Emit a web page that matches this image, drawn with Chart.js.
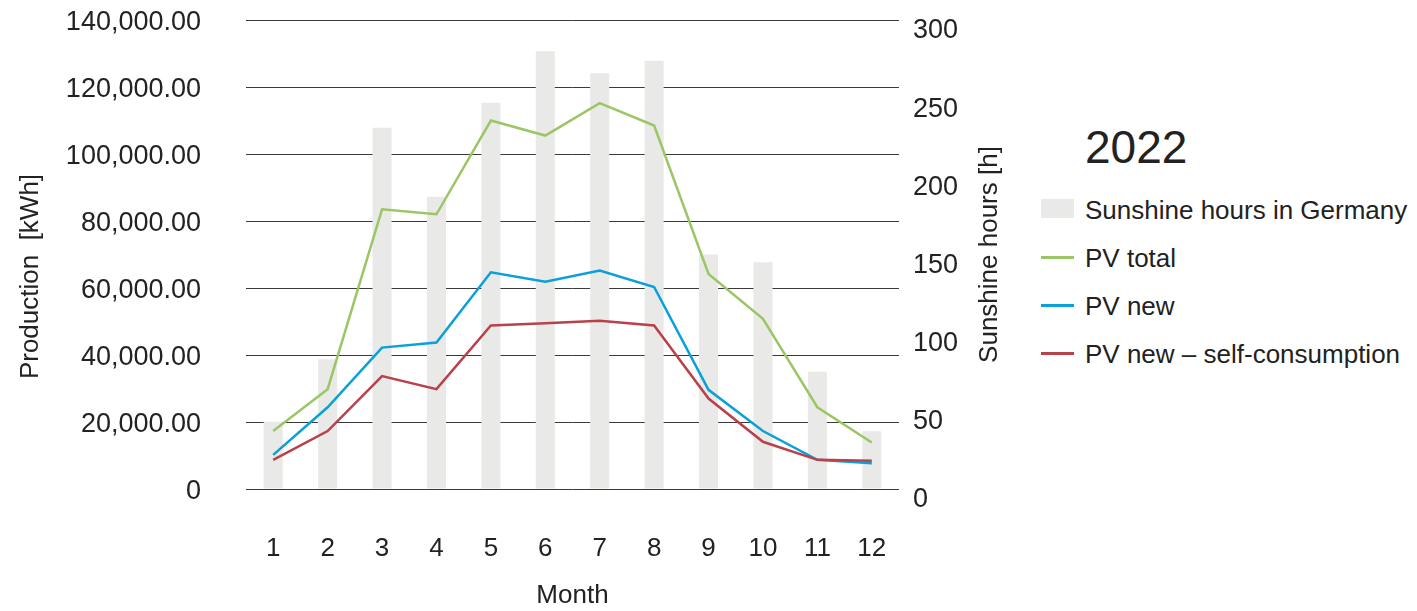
<!DOCTYPE html>
<html lang="en">
<head>
  <meta charset="UTF-8">
  <title>PV production and sunshine hours 2022</title>
  <script src="https://cdn.jsdelivr.net/npm/chart.js"></script>
  <style>
    html, body {
      margin: 0;
      padding: 0;
      background: #fff;
    }
    body {
      position: relative;
      width: 1417px;
      height: 611px;
      overflow: hidden;
      font-family: "Liberation Sans", Arial, sans-serif;
      color: #222;
    }
    #chart {
      position: absolute;
      left: 0;
      top: 0;
    }
    /* legend sits to the right of the plot */
    #legend {
      position: absolute;
      left: 1041px;
      top: 124px;
    }
    #legend .year {
      height: 73px;
      padding-left: 44px;
      font-size: 46px;
      line-height: 46px;
    }
    #legend .item {
      position: relative;
      height: 48px;
      padding-left: 44px;
      font-size: 26px;
      line-height: 26px;
      white-space: nowrap;
    }
    #legend .box {
      position: absolute;
      left: 0;
      top: 2px;
      width: 33px;
      height: 19px;
    }
    #legend .line {
      position: absolute;
      left: 0;
      top: 10.5px;
      width: 33px;
      height: 3px;
    }
  </style>
</head>
<body>
  <canvas id="chart" width="1030" height="611"></canvas>
  <div id="legend"></div>

  <script>
    // Monthly values for 2022
    const months = ['1', '2', '3', '4', '5', '6', '7', '8', '9', '10', '11', '12'];
    const sunshineHours = [43, 83, 231, 187, 247, 280, 266, 274, 150, 145, 75, 37];
    const pvTotal = [17300, 29800, 83500, 82000, 110000, 105500, 115200, 108500, 64200, 50800, 24400, 13900];
    const pvNew = [10200, 24400, 42200, 43700, 64700, 61900, 65200, 60300, 29600, 17300, 8700, 7700];
    const pvNewSelf = [8700, 17300, 33700, 29800, 48800, 49500, 50200, 48800, 27000, 14100, 8700, 8400];

    const COLOR_BAR = '#e9e9e8';
    const COLOR_TOTAL = '#9cc666';
    const COLOR_NEW = '#0aa0d8';
    const COLOR_SELF = '#b9414a';
    const TEXT = '#222';
    const FONT = '"Liberation Sans", Arial, sans-serif';

    const legendEntries = [
      { label: 'Sunshine hours in Germany', color: COLOR_BAR, kind: 'box' },
      { label: 'PV total', color: COLOR_TOTAL, kind: 'line' },
      { label: 'PV new', color: COLOR_NEW, kind: 'line' },
      { label: 'PV new – self-consumption', color: COLOR_SELF, kind: 'line' }
    ];

    // 0 stays plain, everything else gets thousands separators and two decimals
    function formatKwh(value) {
      if (value === 0) return '0';
      return value.toLocaleString('en-US', { minimumFractionDigits: 2, maximumFractionDigits: 2 });
    }

    // fixed axis width, and no extra room reserved above/below for the tick labels
    function fixWidth(width) {
      return function (scale) {
        scale.width = width;
        scale.paddingTop = 0;
        scale.paddingBottom = 0;
      };
    }

    // Both axis titles read bottom-to-top, so they are drawn here instead of via scale.title
    const axisTitles = {
      id: 'axisTitles',
      afterDraw(chart) {
        const { ctx, chartArea, scales } = chart;
        const mid = (chartArea.top + chartArea.bottom) / 2;
        ctx.save();
        ctx.fillStyle = TEXT;
        ctx.font = '26px ' + FONT;
        ctx.textAlign = 'center';
        ctx.textBaseline = 'middle';

        ctx.save();
        ctx.translate(scales.y.left + 31, mid + 22);
        ctx.rotate(-Math.PI / 2);
        ctx.fillText('Production  [kWh]', 0, 0);
        ctx.restore();

        ctx.save();
        ctx.translate(scales.y1.right - 40, mid);
        ctx.rotate(-Math.PI / 2);
        ctx.fillText('Sunshine hours [h]', 0, 0);
        ctx.restore();

        ctx.restore();
      }
    };

    new Chart(document.getElementById('chart'), {
      type: 'bar',
      data: {
        labels: months,
        datasets: [
          {
            type: 'line',
            label: 'PV total',
            data: pvTotal,
            borderColor: COLOR_TOTAL,
            backgroundColor: COLOR_TOTAL,
            yAxisID: 'y',
            order: 3
          },
          {
            type: 'line',
            label: 'PV new',
            data: pvNew,
            borderColor: COLOR_NEW,
            backgroundColor: COLOR_NEW,
            yAxisID: 'y',
            order: 2
          },
          {
            type: 'line',
            label: 'PV new – self-consumption',
            data: pvNewSelf,
            borderColor: COLOR_SELF,
            backgroundColor: COLOR_SELF,
            yAxisID: 'y',
            order: 1
          },
          {
            type: 'bar',
            label: 'Sunshine hours in Germany',
            data: sunshineHours,
            backgroundColor: COLOR_BAR,
            yAxisID: 'y1',
            categoryPercentage: 1,
            barPercentage: 0.35,
            order: 4
          }
        ]
      },
      options: {
        responsive: false,
        animation: false,
        devicePixelRatio: 1,
        layout: { padding: { top: 20, right: 0, bottom: 0, left: 0 } },
        elements: {
          point: { radius: 0, hoverRadius: 0 },
          line: { borderWidth: 2.5, tension: 0 }
        },
        plugins: {
          legend: { display: false },
          tooltip: { enabled: false }
        },
        scales: {
          x: {
            grid: { display: false, drawTicks: false },
            border: { display: false },
            ticks: { padding: 44, color: TEXT, font: { family: FONT, size: 26 } },
            title: {
              display: true,
              text: 'Month',
              color: TEXT,
              font: { family: FONT, size: 26 },
              padding: { top: 0, bottom: 0 }
            },
            afterFit(scale) { scale.height = 122; }
          },
          y: {
            position: 'left',
            min: 0,
            max: 140000,
            ticks: {
              stepSize: 20000,
              padding: 45,
              labelOffset: 3,
              color: TEXT,
              font: { family: FONT, size: 27 },
              callback: (value) => formatKwh(value)
            },
            grid: { color: '#3a3a3a', lineWidth: 1, drawTicks: false },
            border: { display: false },
            afterFit: fixWidth(246)
          },
          y1: {
            position: 'right',
            min: 0,
            max: 300,
            ticks: {
              stepSize: 50,
              padding: 14,
              labelOffset: 11,
              color: TEXT,
              font: { family: FONT, size: 27 }
            },
            grid: { drawOnChartArea: false, drawTicks: false },
            border: { display: false },
            afterFit: fixWidth(131)
          }
        }
      },
      plugins: [axisTitles]
    });

    // legend block: year heading plus one row per series
    const legend = document.getElementById('legend');
    const year = document.createElement('div');
    year.className = 'year';
    year.textContent = '2022';
    legend.appendChild(year);
    legendEntries.forEach(entry => {
      const row = document.createElement('div');
      row.className = 'item';
      const swatch = document.createElement('span');
      swatch.className = entry.kind;
      swatch.style.background = entry.color;
      row.appendChild(swatch);
      row.appendChild(document.createTextNode(entry.label));
      legend.appendChild(row);
    });
  </script>
</body>
</html>
